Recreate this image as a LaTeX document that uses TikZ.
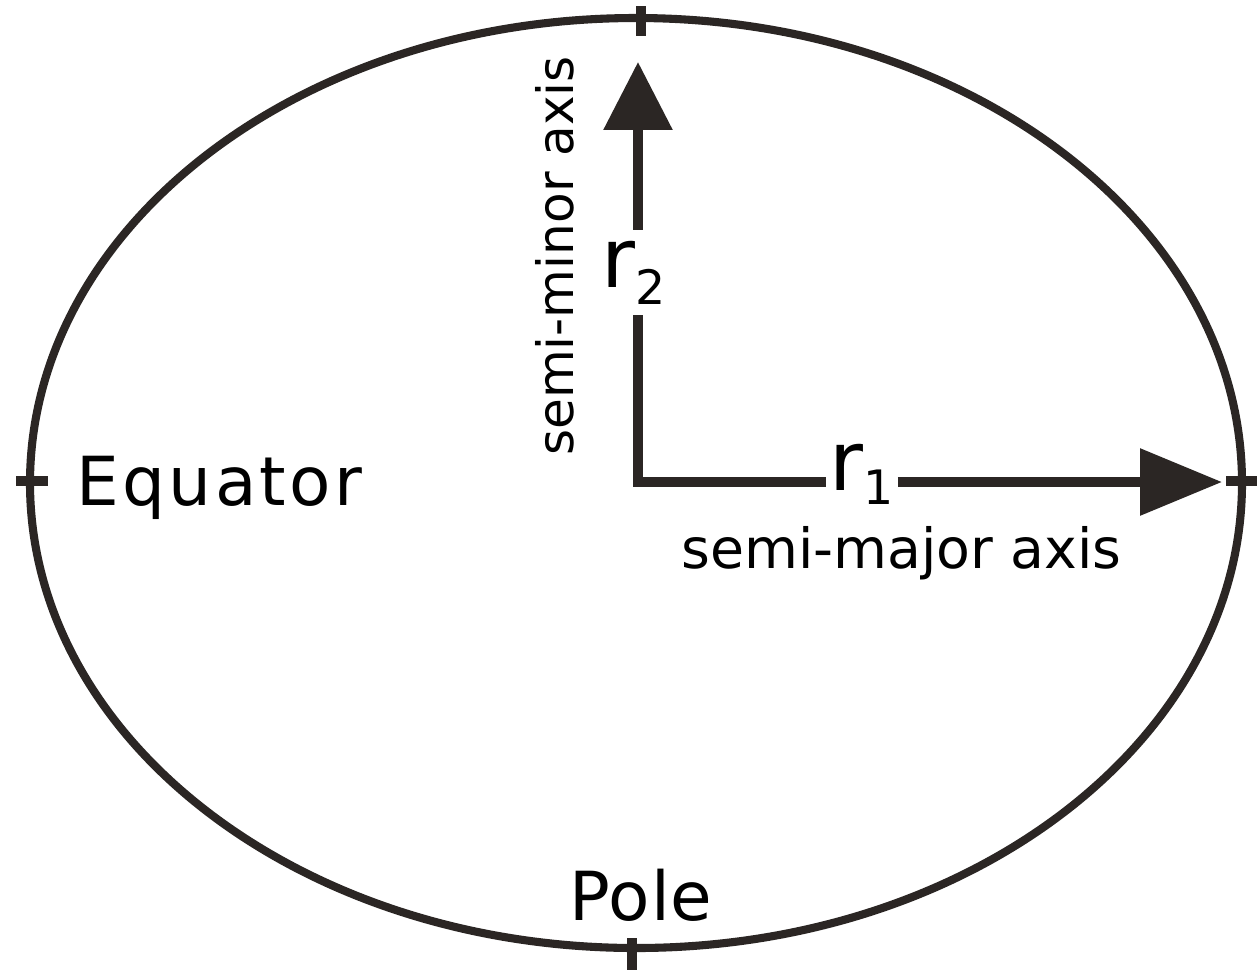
\documentclass[tikz,border=0pt]{standalone}
\usepackage{fontspec}
\setmainfont{DejaVu Sans}
\usetikzlibrary{arrows.meta}
\definecolor{ink}{HTML}{2B2624}
\begin{document}
\begin{tikzpicture}[x=0.02cm,y=-0.02cm,
  curve/.style={draw=ink,line width=4.6pt},
  tick/.style={draw=ink,line width=5.4pt},
  axisline/.style={draw=ink,line width=5.4pt,line join=miter},
  biglabel/.style={inner sep=0pt,text=black,font=\fontsize{38.5}{40}\selectfont},
  smalllabel/.style={inner sep=0pt,text=black},
  rlabel/.style={inner xsep=2pt,inner ysep=6pt,text=black}]
\useasboundingbox (0,0) rectangle (1257,971);
\fill[white] (0,0) rectangle (1257,971);
% ellipse
\draw[curve] (636,483) ellipse [x radius=606, y radius=465];
% ticks
\draw[tick] (641,6) -- (641,36);
\draw[tick] (632,938) -- (632,970);
\draw[tick] (16,481) -- (48,481);
\draw[tick] (1226,481) -- (1257,481);
% centre and tips
\coordinate (O) at (638,482);
\coordinate (T) at (638,62);
\coordinate (R) at (1222,482);
% radius labels
\node[rlabel,anchor=base west] (r2) at (598,287)
  {\fontsize{47}{47}\selectfont r\raisebox{-10pt}{\fontsize{27}{27}\selectfont 2}};
\node[rlabel,anchor=base west] (r1) at (826,490)
  {\fontsize{47}{47}\selectfont r\raisebox{-8.5pt}{\fontsize{27}{27}\selectfont 1}};
% axes
\draw[axisline] (O |- r2.south) -- (O) -- (r1.west |- O);
\draw[axisline,-{Triangle[length=1.36cm,width=1.34cm]}] (O |- r2.north) -- (T);
\draw[axisline,-{Triangle[length=1.64cm,width=1.3cm]}] (r1.east |- O) -- (R);
% text labels
\node[biglabel,anchor=base west] (eq) at (76,505) {\addfontfeatures{LetterSpace=5}Equator};
\node[biglabel,anchor=base west] (pole) at (569,920) {\addfontfeatures{LetterSpace=1.5}Pole};
\node[smalllabel,anchor=base west,font=\fontsize{31.5}{33}\selectfont] (major) at (681,568) {semi-major axis};
\node[smalllabel,anchor=base west,rotate=90,font=\fontsize{28.5}{30}\selectfont] (minor) at (573,456) {semi-minor axis};
\end{tikzpicture}
\end{document}
